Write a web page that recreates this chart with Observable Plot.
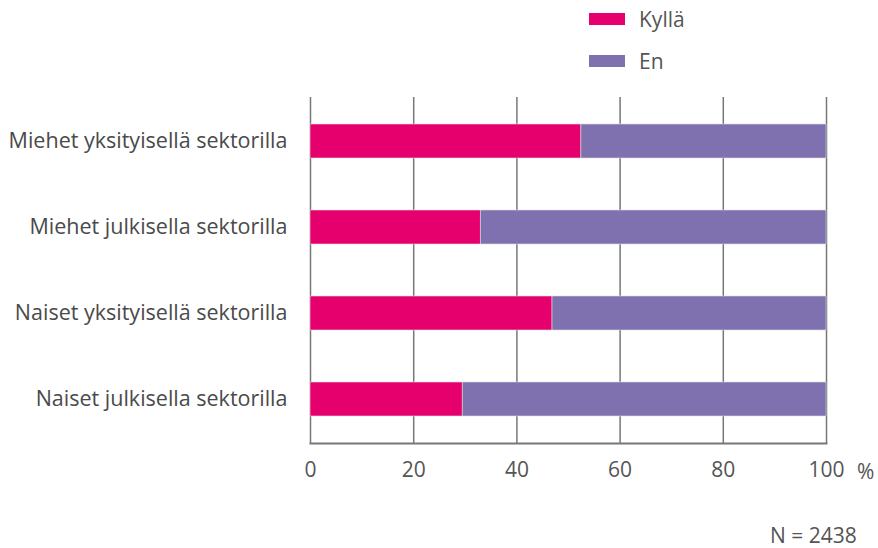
<!DOCTYPE html>
<html>
<head>
<meta charset="utf-8">
<script src="https://cdn.jsdelivr.net/npm/d3@7"></script>
<script src="https://cdn.jsdelivr.net/npm/@observablehq/plot@0.6"></script>
<style>
  html, body { margin: 0; padding: 0; background: #fff; }
  #wrap { position: relative; width: 878px; height: 548px; font-family: "Open Sans", sans-serif; color: #555; }
  .leg { position: absolute; display: flex; align-items: center; font-size: 21px; line-height: 24px; }
  .sw { width: 36px; height: 12px; margin-right: 14px; }
  #n { position: absolute; left: 770px; top: 522px; font-size: 21px; line-height: 26px; }
  #pct { position: absolute; left: 857px; top: 458px; font-size: 21px; line-height: 26px; }
</style>
</head>
<body>
<div id="wrap">
  <div class="leg" style="left:589px; top:7px;"><div class="sw" style="background:#E5006D"></div>Kyllä</div>
  <div class="leg" style="left:589px; top:49px;"><div class="sw" style="background:#7F71AF"></div>En</div>
  <div id="pct">%</div>
  <div id="n">N = 2438</div>
</div>
<script>
const categories = [
  "Miehet yksityisellä sektorilla",
  "Miehet julkisella sektorilla",
  "Naiset yksityisellä sektorilla",
  "Naiset julkisella sektorilla"
];
const series = ["Kyllä", "En"];
const kylla = [52.5, 33.0, 46.9, 29.5];
const en = kylla.map(v => 100 - v);
const colors = ["#E5006D", "#7F71AF"];
const xTicks = [0, 20, 40, 60, 80, 100];

const data = [];
categories.forEach((c, i) => {
  data.push({cat: c, answer: series[0], value: kylla[i]});
  data.push({cat: c, answer: series[1], value: en[i]});
});

const chart = Plot.plot({
  width: 878,
  height: 548,
  marginTop: 97,
  marginBottom: 105,
  marginLeft: 310,
  marginRight: 52,
  style: {fontFamily: "Open Sans, sans-serif", fontSize: "21px", color: "#555", background: "transparent"},
  x: {domain: [0, 100], ticks: xTicks, label: null},
  y: {domain: categories, type: "band", paddingInner: 0.6, paddingOuter: 0.29, label: null},
  color: {domain: series, range: colors},
  marks: [
    Plot.ruleX(xTicks, {stroke: "#777", strokeWidth: 1.5}),
    Plot.barX(data, Plot.stackX({y: "cat", x: "value", fill: "answer", order: series, stroke: "#ddd", strokeWidth: 0.6})),
    Plot.frame({anchor: "bottom", stroke: "#777", strokeWidth: 2}),
    Plot.axisY({tickSize: 0, tickPadding: 23, fontSize: 21.5, fill: "#4a4a4a", label: null}),
    Plot.axisX({ticks: xTicks, tickSize: 0, tickPadding: 19, fontSize: 21, fill: "#555", label: null})
  ]
});
chart.style.position = "absolute";
chart.style.left = "0";
chart.style.top = "0";
document.getElementById("wrap").prepend(chart);
</script>
</body>
</html>
